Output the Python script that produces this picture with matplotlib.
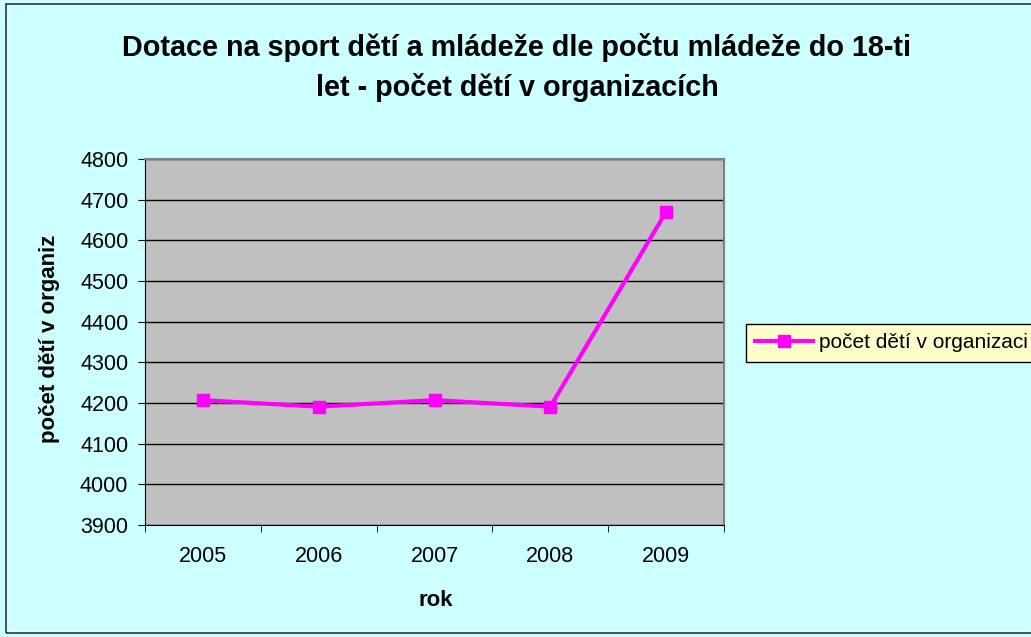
import matplotlib.pyplot as plt
from matplotlib.patches import Rectangle
from matplotlib.transforms import Bbox

roky = ['2005', '2006', '2007', '2008', '2009']
pocet_deti = [4207, 4191, 4207, 4191, 4670]
y_ticks = list(range(3900, 4801, 100))

plt.rcParams['font.family'] = ['Liberation Sans', 'DejaVu Sans']

fig = plt.figure(figsize=(10.31, 6.37), dpi=100)
fig.patch.set_facecolor('#CCFFFF')

# ramecek kolem celeho grafu
fig.patches.append(Rectangle((6 / 1031, 4 / 637), 1.1, 1 - 8 / 637, transform=fig.transFigure,
                             facecolor='none', edgecolor='#333333', linewidth=1.2, zorder=0))

ax = fig.add_axes([145 / 1031, 1 - 525 / 637, 579 / 1031, 366 / 637])
ax.set_facecolor('#C0C0C0')

x = list(range(len(roky)))
line, = ax.plot(x, pocet_deti, color='#FF00FF', linewidth=3, marker='s', markersize=8,
                label='počet dětí v organizaci', zorder=3)

ax.set_xlim(-0.5, len(roky) - 0.5)
ax.set_ylim(3900, 4800)
ax.set_yticks(y_ticks)
ax.set_yticklabels([str(v) for v in y_ticks], fontsize=15.5)
ax.set_xticks(x)
ax.set_xticklabels(roky, fontsize=15.5)
ax.set_xticks([i - 0.5 for i in range(len(roky) + 1)], minor=True)
ax.tick_params(axis='x', which='major', length=0, pad=15)
ax.tick_params(axis='x', which='minor', length=5, direction='out', color='black')
ax.tick_params(axis='y', length=5, direction='out', color='black', pad=7)
ax.yaxis.grid(True, color='black', linewidth=1)
ax.set_axisbelow(True)
for side in ['top', 'right']:
    ax.spines[side].set_color('#808080')
    ax.spines[side].set_linewidth(1.5)
for side in ['left', 'bottom']:
    ax.spines[side].set_color('black')

titul = dict(ha='center', va='center', fontsize=20.7, fontweight='bold')
fig.text(517 / 1031, 1 - 47 / 637, 'Dotace na sport dětí a mládeže dle počtu mládeže do 18-ti', **titul)
fig.text(517 / 1031, 1 - 87 / 637, 'let - počet dětí v organizacích', **titul)

fig.text(436 / 1031, 1 - 600 / 637, 'rok', ha='center', va='center', fontsize=16, fontweight='bold')

ylab = fig.text(50 / 1031, 1 - 443 / 637, 'počet dětí v organizacích', rotation=90,
                ha='center', va='bottom', fontsize=16, fontweight='bold')
ylab.set_clip_box(Bbox([[0, 0], [200, 637 - 235]]))
ylab.set_clip_on(True)

leg = fig.legend(handles=[line], loc='center left', bbox_to_anchor=(746 / 1031, 1 - 343 / 637),
                 fontsize=15, frameon=True, fancybox=False, borderpad=0.45, borderaxespad=0,
                 handlelength=2.75, handletextpad=0.3)
leg.get_frame().set_facecolor('#FFFFCC')
leg.get_frame().set_edgecolor('black')
leg.get_frame().set_alpha(1)

fig.savefig('out.png', dpi=100, facecolor=fig.get_facecolor())
